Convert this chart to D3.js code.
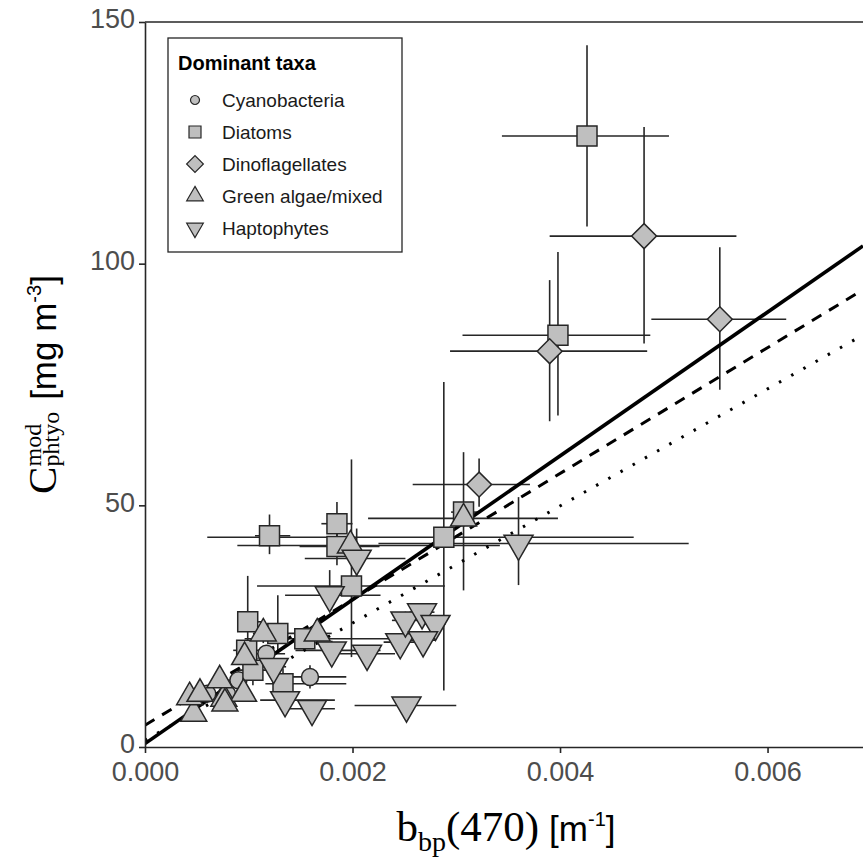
<!DOCTYPE html>
<html>
<head>
<meta charset="utf-8">
<script src="https://cdn.jsdelivr.net/npm/d3@7"></script>
<style>
  body { margin: 0; background: #fff; }
</style>
</head>
<body>
<div class="chart"></div>
<script>
// taxa shown in the legend
const taxa = ['Cyanobacteria', 'Diatoms', 'Dinoflagellates', 'Green algae/mixed', 'Haptophytes'];
const xTicks = [0, 0.002, 0.004, 0.006];
const yTicks = [0, 50, 100, 150];

// one entry per sample (index into taxa)
const taxon = [
  0, 0, 0, 0, 0,
  1, 1, 1, 1, 1, 1, 1, 1, 1, 1, 1, 1, 1, 1,
  2, 2, 2, 2,
  3, 3, 3, 3, 3, 3, 3, 3, 3, 3, 3, 3,
  4, 4, 4, 4, 4, 4, 4, 4, 4, 4, 4, 4, 4, 4,
];
const bbp = [
  0.00060, 0.00079, 0.00090, 0.00117, 0.00159,
  0.00426, 0.00398, 0.00120, 0.00185, 0.00185, 0.00199, 0.00288, 0.00307, 0.00099, 0.00128, 0.00154, 0.00133, 0.00104, 0.00098,
  0.00481, 0.00554, 0.00390, 0.00322,
  0.00047, 0.00043, 0.00053, 0.00076, 0.00072, 0.00095, 0.00096, 0.00114, 0.00307, 0.00198, 0.00166, 0.00077,
  0.00124, 0.00135, 0.00161, 0.00178, 0.00204, 0.00180, 0.00214, 0.00246, 0.00251, 0.00267, 0.00280, 0.00268, 0.00252, 0.00360,
];
const bbpLow = [
  0.00043, 0.00063, 0.00074, 0.00101, 0.00125,
  0.00344, 0.00306, 0.00106, 0.00170, 0.00149, 0.00108, 0.00060, 0.00295, 0.00089, 0.00113, 0.00096, 0.00116, 0.00087, 0.00085,
  0.00390, 0.00488, 0.00294, 0.00258,
  0.00040, 0.00036, 0.00046, 0.00068, 0.00064, 0.00087, 0.00088, 0.00104, 0.00215, 0.00089, 0.00150, 0.00069,
  0.00112, 0.00111, 0.00130, 0.00135, 0.00154, 0.00145, 0.00188, 0.00230, 0.00238, 0.00255, 0.00268, 0.00256, 0.00202, 0.00225,
];
const bbpHigh = [
  0.00077, 0.00096, 0.00106, 0.00135, 0.00194,
  0.00505, 0.00487, 0.00140, 0.00200, 0.00226, 0.00289, 0.00471, 0.00322, 0.00113, 0.00149, 0.00236, 0.00194, 0.00125, 0.00112,
  0.00570, 0.00618, 0.00484, 0.00371,
  0.00055, 0.00050, 0.00060, 0.00084, 0.00080, 0.00103, 0.00104, 0.00124, 0.00398, 0.00342, 0.00180, 0.00085,
  0.00136, 0.00183, 0.00183, 0.00227, 0.00251, 0.00227, 0.00241, 0.00262, 0.00264, 0.00279, 0.00290, 0.00280, 0.00300, 0.00524,
];
const carbon = [
  11.0, 11.0, 13.8, 19.3, 14.5,
  126.4, 85.2, 43.7, 46.2, 41.5, 33.3, 43.4, 48.6, 25.9, 23.5, 22.4, 13.1, 15.9, 20.0,
  105.7, 88.5, 81.9, 54.3,
  6.9, 10.3, 11.0, 10.0, 13.8, 11.0, 18.6, 23.5, 47.3, 41.7, 23.5, 9.0,
  16.6, 9.7, 7.9, 31.4, 39.0, 20.0, 19.3, 21.7, 26.2, 27.9, 25.5, 22.1, 8.6, 42.1,
];
const carbonLow = [
  9.7, 9.5, 12.2, 17.5, 12.1,
  107.7, 68.6, 39.9, 39.7, 37.6, 18.6, 11.7, 32.4, 22.1, 20.0, 20.0, 9.7, 12.8, 18.0,
  83.5, 73.9, 67.4, 49.7,
  5.5, 9.0, 9.8, 8.8, 12.5, 9.6, 17.0, 21.5, 45.5, 39.5, 21.5, 7.8,
  15.0, 8.3, 6.5, 29.0, 35.0, 18.0, 17.5, 20.0, 24.5, 26.5, 24.0, 20.5, 7.5, 33.5,
];
const carbonHigh = [
  12.8, 12.5, 15.5, 21.0, 16.9,
  145.2, 102.4, 48.1, 50.7, 46.9, 59.5, 75.5, 61.0, 35.4, 31.4, 24.6, 16.3, 19.0, 22.0,
  128.3, 103.4, 96.6, 59.7,
  8.5, 11.5, 12.2, 11.2, 15.0, 12.4, 20.2, 25.5, 49.0, 44.0, 25.5, 10.2,
  18.2, 11.0, 9.3, 36.6, 45.2, 22.0, 21.0, 23.5, 28.0, 29.5, 27.0, 23.5, 9.7, 51.7,
];

// regression lines: solid, dashed, dotted
const fitIntercept = [0.7, 4.5, 1.4];
const fitSlope = [14880, 13020, 12115];
const fitDash = [null, '11,9', '2.5,11.5'];

const margin = { top: 22, right: 0, bottom: 110, left: 145 },
  width = 863 - margin.left - margin.right,
  height = 857 - margin.top - margin.bottom;

const x = d3.scaleLinear().domain([0, 0.00692]).range([0, width]);
const y = d3.scaleLinear().domain([0, 150]).range([height, 0]);

const shapes = [
  { type: d3.symbolCircle, size: 227, rot: 0, legend: 64 },
  { type: d3.symbolSquare, size: 400, rot: 0, legend: 144 },
  { type: d3.symbolSquare, size: 310, rot: 45, legend: 140 },
  { type: d3.symbolTriangle, size: 292, rot: 0, legend: 120 },
  { type: d3.symbolTriangle, size: 364, rot: 180, legend: 120 },
];
const fillGrey = '#bfbfbf';
const ink = '#262626';

const svg = d3.select('.chart').append('svg')
  .attr('width', 863)
  .attr('height', 857)
  .style('display', 'block');

const g = svg.append('g')
  .attr('transform', `translate(${margin.left},${margin.top})`);

svg.append('defs').append('clipPath').attr('id', 'plotclip')
  .append('rect').attr('width', width).attr('height', height);

const data = bbp.map((v, i) => ({
  t: taxon[i], x: v, x0: bbpLow[i], x1: bbpHigh[i],
  y: carbon[i], y0: carbonLow[i], y1: carbonHigh[i],
}));

const plot = g.append('g').attr('clip-path', 'url(#plotclip)');

// error bars
plot.append('g').selectAll('line.h').data(data).join('line')
  .attr('x1', d => x(d.x0)).attr('x2', d => x(d.x1))
  .attr('y1', d => y(d.y)).attr('y2', d => y(d.y))
  .attr('stroke', ink).attr('stroke-width', 1.6);
plot.append('g').selectAll('line.v').data(data).join('line')
  .attr('x1', d => x(d.x)).attr('x2', d => x(d.x))
  .attr('y1', d => y(d.y0)).attr('y2', d => y(d.y1))
  .attr('stroke', ink).attr('stroke-width', 1.6);

// regression lines
const xMax = x.domain()[1];
fitIntercept.forEach((a, i) => {
  const line = d3.line().x(p => x(p[0])).y(p => y(p[1]));
  plot.append('path')
    .datum([[0, a], [xMax, a + fitSlope[i] * xMax]])
    .attr('d', line)
    .attr('fill', 'none')
    .attr('stroke', '#000')
    .attr('stroke-width', i === 0 ? 3.6 : 3)
    .attr('stroke-dasharray', fitDash[i]);
});

// points
plot.append('g').selectAll('path').data(data).join('path')
  .attr('d', d => d3.symbol().type(shapes[d.t].type).size(shapes[d.t].size)())
  .attr('transform', d => `translate(${x(d.x)},${y(d.y)}) rotate(${shapes[d.t].rot})`)
  .attr('fill', fillGrey)
  .attr('stroke', ink)
  .attr('stroke-width', 1.5);

// axes
const axisY = g.append('g')
  .call(d3.axisLeft(y).tickValues(yTicks).tickSize(6).tickSizeOuter(0).tickPadding(4));
const axisX = g.append('g')
  .attr('transform', `translate(0,${height})`)
  .call(d3.axisBottom(x).tickValues(xTicks).tickSize(6).tickSizeOuter(0).tickPadding(9)
    .tickFormat(d3.format('.3f')));
[axisX, axisY].forEach(a => {
  a.select('.domain').attr('stroke', ink).attr('stroke-width', 1.6);
  a.selectAll('.tick line').attr('stroke', ink).attr('stroke-width', 1.6);
  a.selectAll('.tick text')
    .attr('fill', '#4d4d4d')
    .style('font-family', '"Liberation Sans", Arial, sans-serif')
    .style('font-size', '27px');
});
// the "0" on the y axis sits a little higher than the x labels
axisY.selectAll('.tick text').attr('dy', '0.22em');
// top border of the panel
g.append('line')
  .attr('x1', 0).attr('x2', width).attr('y1', 0).attr('y2', 0)
  .attr('stroke', ink).attr('stroke-width', 1.6);

// titles built from mixed serif / sans pieces
const serif = '"Liberation Serif", "Times New Roman", serif';
const sans = '"Liberation Sans", Arial, sans-serif';

function drawTitle(sel, parts) {
  let pos = 0, prevStart = 0, prevW = 0;
  parts.forEach(p => {
    const start = p.stack ? prevStart : pos + (p.gap || 0);
    const t = sel.append('text')
      .attr('x', start).attr('y', p.dy || 0)
      .attr('fill', '#000')
      .style('font-family', p.family)
      .style('font-size', p.size + 'px')
      .text(p.text);
    const w = t.node().getComputedTextLength();
    if (p.stack) {
      pos = start + Math.max(prevW, w);
    } else {
      pos = start + w;
      prevStart = start;
      prevW = w;
    }
  });
  sel.selectAll('text').attr('x', function () { return +d3.select(this).attr('x') - pos / 2; });
}

const xTitle = svg.append('g').attr('transform', `translate(${margin.left + width / 2 + 2},841)`);
drawTitle(xTitle, [
  { text: 'b', family: serif, size: 43 },
  { text: 'bp', family: serif, size: 28, dy: 10 },
  { text: '(470)', family: serif, size: 43 },
  { text: '[m', family: sans, size: 35, gap: 10 },
  { text: '-1', family: sans, size: 20, dy: -15 },
  { text: ']', family: sans, size: 35 },
]);

const yTitle = svg.append('g').attr('transform', `translate(56,${margin.top + height / 2}) rotate(-90)`);
drawTitle(yTitle, [
  { text: 'C', family: serif, size: 41 },
  { text: 'mod', family: serif, size: 24, dy: -15 },
  { text: 'phtyo', family: serif, size: 24, dy: 3, stack: true },
  { text: '[mg m', family: sans, size: 35, gap: 12 },
  { text: '-3', family: sans, size: 20, dy: -15 },
  { text: ']', family: sans, size: 35 },
]);

// legend
const legend = svg.append('g');
legend.append('rect')
  .attr('x', 168).attr('y', 38).attr('width', 234).attr('height', 214)
  .attr('fill', '#fff').attr('stroke', ink).attr('stroke-width', 1.3);
legend.append('text')
  .attr('x', 178).attr('y', 70)
  .style('font-family', sans).style('font-size', '20px').style('font-weight', 'bold')
  .text('Dominant taxa');
const rows = legend.selectAll('g.row').data(taxa).join('g')
  .attr('transform', (d, i) => `translate(195,${100 + i * 32})`);
rows.append('path')
  .attr('d', (d, i) => d3.symbol().type(shapes[i].type).size(shapes[i].legend)())
  .attr('transform', (d, i) => `rotate(${shapes[i].rot})`)
  .attr('fill', fillGrey).attr('stroke', ink).attr('stroke-width', 1.2);
rows.append('text')
  .attr('x', 27).attr('y', 7)
  .attr('fill', '#1a1a1a')
  .style('font-family', sans).style('font-size', '19px')
  .text(d => d);
</script>
</body>
</html>
